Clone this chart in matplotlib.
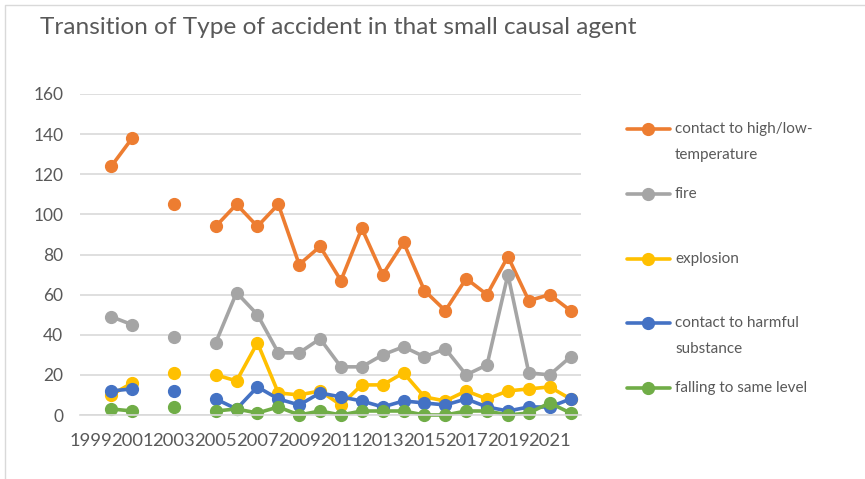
import numpy as np
import matplotlib

matplotlib.use('Agg')
import matplotlib.pyplot as plt  # noqa: E402
from matplotlib.lines import Line2D  # noqa: E402

nan = np.nan

years = list(range(1999, 2023))
tick_labels = [str(y) for y in years[::2]]

series_names = ['contact to high/low-\ntemperature', 'fire', 'explosion',
                'contact to harmful\nsubstance', 'falling to same level']
series_colors = ['#ED7D31', '#A5A5A5', '#FFC000', '#4472C4', '#70AD47']

#                1999 2000 2001 2002 2003 2004 2005 ... 2022
high_low_temp = [nan, 124, 138, nan, 105, nan, 94, 105, 94, 105, 75, 84, 67, 93, 70, 86, 62, 52, 68, 60, 79, 57, 60, 52]
fire = [nan, 49, 45, nan, 39, nan, 36, 61, 50, 31, 31, 38, 24, 24, 30, 34, 29, 33, 20, 25, 70, 21, 20, 29]
explosion = [nan, 10, 16, nan, 21, nan, 20, 17, 36, 11, 10, 12, 5, 15, 15, 21, 9, 7, 12, 8, 12, 13, 14, 8]
harmful = [nan, 12, 13, nan, 12, nan, 8, 3, 14, 8, 5, 11, 9, 7, 4, 7, 6, 5, 8, 4, 2, 4, 4, 8]
falling = [nan, 3, 2, nan, 4, nan, 2, 3, 1, 4, 0, 2, 0, 2, 2, 2, 0, 0, 2, 2, 0, 1, 6, 1]

all_series = [high_low_temp, fire, explosion, harmful, falling]

W, H = 865, 479
plt.rcParams['font.family'] = ['Lato', 'DejaVu Sans']
text_color = '#595959'
grid_color = '#D9D9D9'

figure = plt.figure(figsize=(W / 100, H / 100), dpi=100)
axis = figure.add_axes([80 / W, 1 - 415 / H, (581 - 80) / W, (415 - 94) / H])

x = np.arange(len(years))
for values, color in zip(all_series, series_colors):
    axis.plot(x, values, color=color, linewidth=2.6, marker='o', markersize=8.5,
              clip_on=False, solid_capstyle='round')

axis.set_xlim(-0.5, len(years) - 0.5)
axis.set_ylim(0, 160)
axis.set_yticks(range(0, 161, 20))
axis.set_xticks(x[::2], labels=tick_labels)
axis.grid(axis='y', color=grid_color, linewidth=1.2)
axis.set_axisbelow(True)
for side in ['top', 'right', 'left']:
    axis.spines[side].set_visible(False)
axis.spines['bottom'].set_color(grid_color)
axis.spines['bottom'].set_linewidth(1.2)
axis.tick_params(axis='both', length=0, labelcolor=text_color)
axis.tick_params(axis='y', pad=12, labelsize=12.5)
axis.tick_params(axis='x', pad=13, labelsize=13.2)

figure.text(40 / W, 1 - 27 / H, 'Transition of Type of accident in that small causal agent',
            fontsize=17.6, color=text_color, va='center', ha='left')

# legend drawn by hand to keep Excel's spacing
legend_y = [129, 194, 259, 323, 388]
for name, color, ly in zip(series_names, series_colors, legend_y):
    yf = 1 - ly / H
    figure.add_artist(Line2D([627 / W, 670 / W], [yf, yf], color=color, linewidth=2.6,
                             solid_capstyle='round', transform=figure.transFigure))
    figure.add_artist(Line2D([648 / W], [yf], color=color, marker='o', markersize=8.5,
                             transform=figure.transFigure))
    for i, part in enumerate(name.split('\n')):
        figure.text(675 / W, 1 - (ly + 26 * i) / H, part, fontsize=11, color=text_color,
                    va='center', ha='left')

# chart area border
figure.add_artist(Line2D([5 / W, 5 / W, 1], [0, 1 - 5 / H, 1 - 5 / H], color=grid_color,
                         linewidth=1, transform=figure.transFigure))

figure.savefig('out.png', dpi=100)
plt.close(figure)
